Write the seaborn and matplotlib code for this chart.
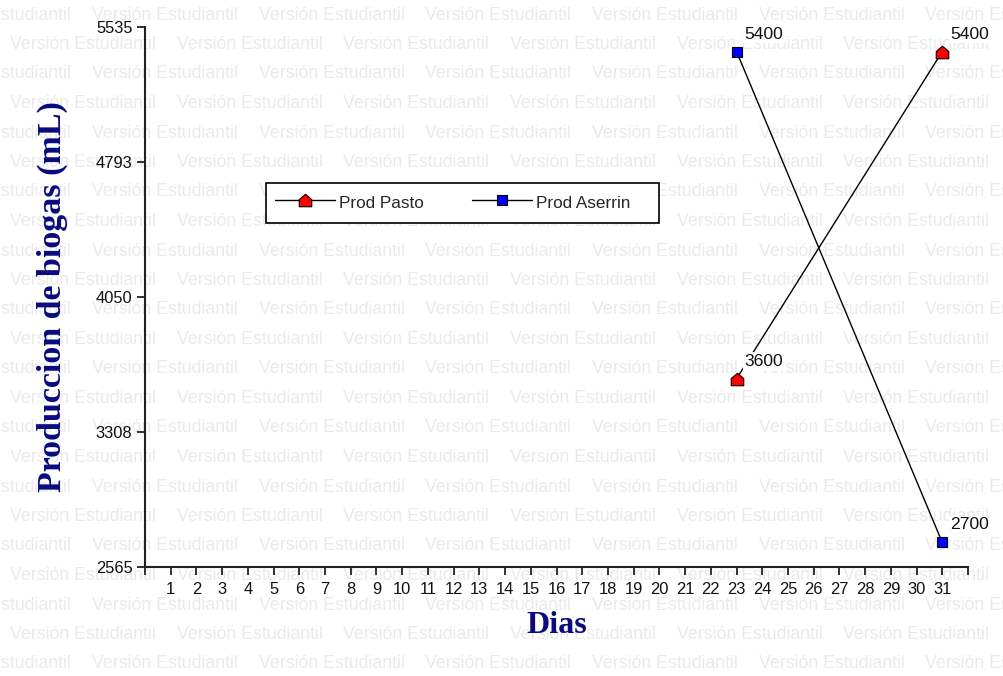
import matplotlib
matplotlib.use("Agg")
import matplotlib.pyplot as plt
import seaborn as sns
import pandas as pd
import numpy as np
from matplotlib.path import Path

# ---- data ----
days = [23, 31]
prod_pasto = [3600, 5400]
prod_aserrin = [5400, 2700]
series_names = ["Prod Pasto", "Prod Aserrin"]
x_tick_labels = [str(d) for d in range(1, 32)]
y_ticks = [2565, 3308, 4050, 4793, 5535]
watermark = "Versión Estudiantil"

sns.set_style("white")
plt.rcParams["font.family"] = ["Liberation Sans", "DejaVu Sans"]

fig = plt.figure(figsize=(10.04, 6.76), dpi=100)
fig.patch.set_facecolor("white")
ax = fig.add_axes([145 / 1004, 1 - 567 / 676, (968 - 145) / 1004, (567 - 27) / 676])
ax.patch.set_alpha(0)

# watermark tiling
period = 166.7 / 1004
for r in range(24):
    yf = 1 - (15 + r * 29.5) / 676
    off = (92 if r % 2 == 0 else 10) / 1004
    x0 = off - period
    for k in range(8):
        fig.text(x0 + k * period, yf, watermark, fontsize=12.8, color="#eaeaea",
                 ha="left", va="center", zorder=-5)

house = Path([(-1, -1), (1, -1), (1, 0.15), (0, 1), (-1, 0.15), (-1, -1)],
             [Path.MOVETO, Path.LINETO, Path.LINETO, Path.LINETO, Path.LINETO, Path.CLOSEPOLY])

df = pd.DataFrame({
    "Dias": days * 2,
    "val": prod_pasto + prod_aserrin,
    "serie": [series_names[0]] * len(days) + [series_names[1]] * len(days),
})

sns.lineplot(data=df[df.serie == series_names[0]], x="Dias", y="val", ax=ax,
             color="black", lw=1, marker=house, markersize=9,
             markerfacecolor="red", markeredgecolor="black", markeredgewidth=0.8,
             label=series_names[0], zorder=3)
sns.lineplot(data=df[df.serie == series_names[1]], x="Dias", y="val", ax=ax,
             color="black", lw=1, marker="s", markersize=7.5,
             markerfacecolor="blue", markeredgecolor="black", markeredgewidth=0.8,
             label=series_names[1] + "    ", zorder=3)

for xs, ys in ((days, prod_pasto), (days, prod_aserrin)):
    for xv, yv in zip(xs, ys):
        ax.annotate(str(yv), (xv, yv), xytext=(8, 10), textcoords="offset pixels",
                    ha="left", va="bottom", fontsize=12.6, color="#111111",
                    bbox=dict(boxstyle="square,pad=0.1", fc="white", ec="none"), zorder=4)

ax.set_xlim(0, 32)
ax.set_ylim(2565, 5535)
ax.set_xticks(range(0, 33))
ax.set_xticklabels([""] + x_tick_labels + [""])
ax.set_yticks(y_ticks)
ax.set_yticklabels([str(v) for v in y_ticks])
ax.tick_params(axis="both", direction="out", length=6, width=1.3, color="#222222",
               labelsize=11.9, labelcolor="#111111", bottom=True, left=True)
ax.tick_params(axis="y", pad=3)
ax.tick_params(axis="x", pad=5)

for s in ["top", "right"]:
    ax.spines[s].set_visible(False)
for s in ["left", "bottom"]:
    ax.spines[s].set_color("#222222")
    ax.spines[s].set_linewidth(1.5)

ax.set_xlabel("Dias", fontsize=23, fontweight="bold", family="Liberation Serif",
              color="#0a0a80", labelpad=10)
ax.set_ylabel("Produccion de biogas (mL)", fontsize=24.5, fontweight="bold",
              family="Liberation Serif", color="#0a0a80", labelpad=20)

leg = ax.legend(loc="upper left", bbox_to_anchor=(266 / 1004, 1 - 183 / 676),
                bbox_transform=fig.transFigure, ncol=2, frameon=True, fancybox=False,
                fontsize=12.3, handlelength=3.5, handleheight=1.5, columnspacing=2.8,
                borderpad=0.55, handletextpad=0.25, borderaxespad=0)
leg.get_frame().set_edgecolor("black")
leg.get_frame().set_linewidth(1.2)
leg.get_frame().set_facecolor("white")
leg.get_frame().set_alpha(1)

fig.savefig("out.png", dpi=100, facecolor="white")
